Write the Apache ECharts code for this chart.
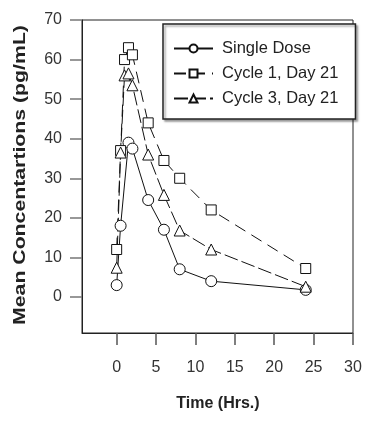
<!DOCTYPE html>
<html>
<head>
<meta charset="utf-8">
<script src="https://cdn.jsdelivr.net/npm/echarts@6/dist/echarts.min.js"></script>
<style>
html,body{margin:0;padding:0;background:#fff;}
#chart{width:389px;height:426px;}
</style>
</head>
<body>
<div id="chart"></div>
<script>
var seriesNames = ['Single Dose', 'Cycle 1, Day 21', 'Cycle 3, Day 21'];
var singleTimes = [0, 0.5, 1.5, 2, 4, 6, 8, 12, 24];
var singleValues = [3, 18, 39, 37.5, 24.5, 17, 7, 4, 1.8];
var cycle1Times = [0, 0.5, 1, 1.5, 2, 4, 6, 8, 12, 24];
var cycle1Values = [12, 37, 60, 63, 61.2, 44, 34.5, 30, 22, 7.2];
var cycle3Times = [0, 0.5, 1, 1.5, 2, 4, 6, 8, 12, 24];
var cycle3Values = [7.4, 36.5, 56, 56.5, 53.5, 36, 25.8, 16.8, 12, 2.6];
var xTicks = [0, 5, 10, 15, 20, 25, 30];
var yTicks = [0, 10, 20, 30, 40, 50, 60, 70];
var xTitle = 'Time (Hrs.)';
var yTitle = 'Mean Concentartions (pg/mL)';

function pairs(t, v) { return t.map(function (x, i) { return [x, v[i]]; }); }

var FONT = "'Liberation Sans', Arial, sans-serif";
var chart = echarts.init(document.getElementById('chart'), null, {renderer: 'canvas'});

function mkSeries(name, data, symbol, size, dash) {
  return {
    name: name, type: 'line', data: data,
    symbol: symbol, symbolSize: size, showSymbol: true,
    lineStyle: {color: '#111', width: 1, type: dash},
    itemStyle: {color: '#fff', borderColor: '#111', borderWidth: 1},
    emphasis: {disabled: true}, animation: false
  };
}

chart.setOption({
  animation: false,
  backgroundColor: '#fff',
  grid: {left: 82, right: 36, top: 20, bottom: 93, show: true, borderColor: '#222', borderWidth: 1, backgroundColor: 'transparent'},
  xAxis: {
    type: 'value', min: -4.4, max: 30,
    axisLine: {onZero: false, lineStyle: {color: '#222', width: 1}},
    axisTick: {show: true, length: 12, customValues: xTicks, lineStyle: {color: '#555', width: 1.5}},
    axisLabel: {customValues: xTicks, margin: 27, fontSize: 16, color: '#333', fontFamily: FONT},
    splitLine: {show: false}
  },
  yAxis: {
    type: 'value', min: -9.1, max: 70,
    axisLine: {show: true, onZero: false, lineStyle: {color: '#222', width: 1}},
    axisTick: {show: true, length: 12, customValues: yTicks, lineStyle: {color: '#777', width: 1.5}},
    axisLabel: {customValues: yTicks, margin: 20, fontSize: 16, color: '#333', fontFamily: FONT},
    splitLine: {show: false}
  },
  legend: {
    orient: 'vertical', left: 163, top: 24,
    padding: [16, 17, 12, 10], itemGap: 8, itemWidth: 39, itemHeight: 10,
    backgroundColor: '#fff', borderColor: '#222', borderWidth: 1.5,
    shadowColor: 'rgba(0,0,0,0.35)', shadowBlur: 2, shadowOffsetX: 2, shadowOffsetY: 2,
    textStyle: {fontSize: 16.5, lineHeight: 16, color: '#222', fontFamily: FONT, padding: [0, 0, 0, 4]},
    data: seriesNames
  },
  graphic: [
    {type: 'text', x: 218, y: 404, style: {text: xTitle, font: 'bold 16px ' + FONT, fill: '#222', align: 'center', verticalAlign: 'middle'}},
    {type: 'text', x: 20, y: 175, rotation: Math.PI / 2, scaleX: 1.25, style: {text: yTitle, font: 'bold 17px ' + FONT, fill: '#222', align: 'center', verticalAlign: 'middle'}}
  ],
  series: [
    mkSeries(seriesNames[0], pairs(singleTimes, singleValues), 'circle', 11, 'solid'),
    mkSeries(seriesNames[1], pairs(cycle1Times, cycle1Values), 'rect', 10, [12, 7]),
    mkSeries(seriesNames[2], pairs(cycle3Times, cycle3Values), 'triangle', 11, [14, 4])
  ]
});
</script>
</body>
</html>
